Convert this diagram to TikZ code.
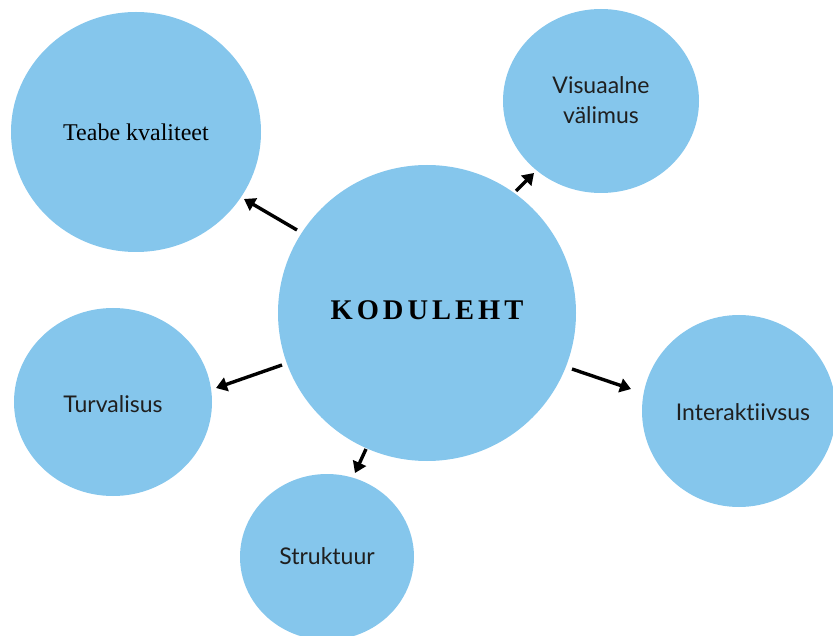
\documentclass[tikz,border=0pt]{standalone}
\usepackage{fontspec}
\setmainfont{Liberation Serif}
\newfontfamily\latofont[Ligatures={NoCommon}]{Lato}
\usetikzlibrary{arrows.meta}
\definecolor{bubble}{RGB}{133,198,236}
\begin{document}
\begin{tikzpicture}[x=1pt,y=-1pt,
  lbl/.style={font=\latofont\fontsize{23}{30}\selectfont,text=black!88,align=center},
  arr/.style={line width=3.4pt,-{Triangle[length=11pt,width=14pt]}}]
\useasboundingbox (0,0) rectangle (833,636);
\begin{scope}
\clip (0,0) rectangle (833,636);
\fill[bubble] (136,132) ellipse [x radius=125,y radius=120];
\fill[bubble] (601,101) ellipse [x radius=98,y radius=92];
\fill[bubble] (427,313) ellipse [x radius=149,y radius=148];
\fill[bubble] (113,402) ellipse [x radius=99,y radius=94];
\fill[bubble] (739,411) ellipse [x radius=97,y radius=96];
\fill[bubble] (327,557) ellipse [x radius=87,y radius=83];
\end{scope}
\node[font=\fontsize{24}{28}\selectfont] (t) at (136,132) {Teabe kvaliteet};
\node[font=\bfseries\fontsize{28.5}{32}\selectfont\addfontfeature{LetterSpace=14}] (k) at (427,310) {KODULEHT};
\node[lbl] (v) at (601,100) {Visuaalne\\välimus};
\node[lbl] (tu) at (113,404) {Turvalisus};
\node[lbl] (i) at (743,412) {Interaktiivsus};
\node[lbl] (s) at (327,556) {Struktuur};
\coordinate (a1s) at (297,230); \coordinate (a1e) at (244,199);
\coordinate (a2s) at (516,191); \coordinate (a2e) at (534,173);
\coordinate (a3s) at (282,365); \coordinate (a3e) at (216,388);
\coordinate (a4s) at (572,369); \coordinate (a4e) at (631,389);
\coordinate (a5s) at (366,449); \coordinate (a5e) at (355,473);
\draw[arr] (a1s) -- (a1e);
\draw[arr] (a2s) -- (a2e);
\draw[arr] (a3s) -- (a3e);
\draw[arr] (a4s) -- (a4e);
\draw[arr] (a5s) -- (a5e);
\end{tikzpicture}
\end{document}
